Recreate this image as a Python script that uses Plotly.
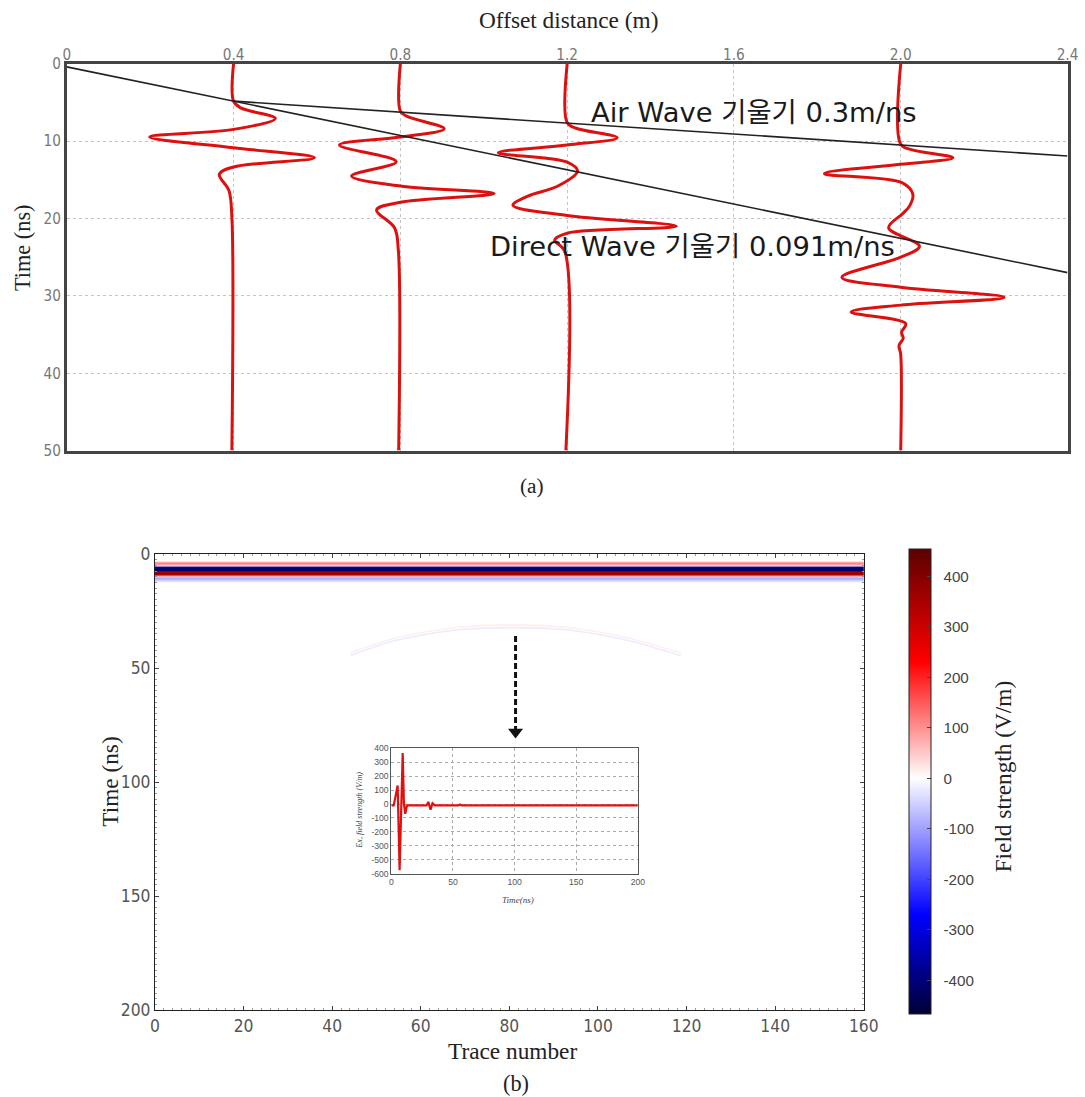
import plotly.graph_objects as go

# The captured picture maps page pixels as: image = 0.9855 * page + offset.
# Positions below are given in target-image pixels and converted to page pixels.
SX, OX = 0.9855, 1.5
SY, OY = 0.9856, 8.5
W, H = 1100, 1105
SC = 1 / SX

# ---------------- (a) offset gather ----------------
offset_ticks = [0, 0.4, 0.8, 1.2, 1.6, 2.0, 2.4]
offset_labels = ["0", "0.4", "0.8", "1.2", "1.6", "2.0", "2.4"]
time_ticks_a = [0, 10, 20, 30, 40, 50]

trace_offsets = [0.4, 0.8, 1.2, 2.0]
trace_times = [
    [0, 4.83, 5.7, 7.06, 8.48, 9.47, 10.85, 12.14, 13.34, 14.28, 16.4, 19.9, 50],
    [0, 6.12, 6.77, 8.4, 9.47, 10.5, 12.65, 14.5, 15.8, 16.78, 17.9, 18.9, 21.2, 24, 50],
    [0, 7.6, 8.3, 9.56, 10.5, 11.5, 12.7, 13.85, 15.8, 17.1, 18.3, 19.6, 21.0, 21.9, 22.8, 24.2, 50],
    [0, 10.4, 11.1, 12.14, 13.0, 14.2, 15.4, 16.86, 18.4, 19.4, 21.2, 23.6, 25.0, 27.6, 28.9,
     30.2, 31.2, 32.1, 33.6, 34.7, 35.5, 36.4, 37.6, 50],
]
trace_amps = [
    [0, 0, 0.017, 0.100, 0, -0.201, 0, 0.194, 0, -0.034, -0.011, -0.004, -0.004],
    [0, 0, 0.015, 0.105, 0, -0.146, -0.010, -0.117, 0, 0.225, 0, -0.057, -0.014, -0.005, -0.004],
    [0, 0, 0.02, 0.12, 0, -0.165, 0, 0.025, -0.022, -0.094, -0.13, 0, 0.262, 0, -0.03, -0.006, -0.003],
    [0, 0, 0.025, 0.125, 0, -0.183, 0.004, 0.029, 0.021, 0.004, -0.029, 0.045, 0, -0.141, 0,
     0.248, 0, -0.119, 0.012, 0.002, 0.006, -0.004, 0, 0],
]

air_x = [0.4, 2.4]
air_t = [4.83, 11.92]
direct_x = [0, 2.4]
direct_t = [0.4, 27.0]

# ---------------- (b) simulated section ----------------
trace_numbers = [0, 40, 80, 120, 160]
heat_t = [0, 3.0, 3.6, 4.2, 4.8, 5.4, 6.0, 6.7, 7.4, 8.0, 8.6, 9.2, 9.7, 10.2, 10.9, 11.6, 12.3, 13.0, 200]
heat_v = [0, 0, 60, 110, 60, 20, -350, -470, -350, 300, 420, 250, 100, -40, -90, -50, -10, 0, 0]

hyper_trace = [44.1, 52.7, 61.3, 69.9, 81.2, 91.4, 100.0, 108.6, 118.7]
hyper_t_lower = [44.6, 38.8, 35.2, 33.0, 32.3, 33.0, 35.2, 38.8, 44.6]
hyper_t_upper = [43.4, 37.7, 34.1, 31.9, 31.1, 31.9, 34.1, 37.7, 43.4]

trace_ticks_b = [0, 20, 40, 60, 80, 100, 120, 140, 160]
time_ticks_b = [0, 50, 100, 150, 200]
cbar_ticks = [-400, -300, -200, -100, 0, 100, 200, 300, 400]
cbar_labels = ["-400", "-300", "-200", "-100", "0", "100", "200", "300", "400"]

# inset: single trace (trace 80)
inset_t = [0, 1.9, 3.5, 5.1, 6.7, 9.2, 10.2, 11.3, 12.7, 28.6, 30.0, 31.8, 33.4, 35.2, 54.5, 55.8, 57.0, 200]
inset_v = [-10, -10, 60, 133, -474, 366, 0, -70, -10, -10, 15, -40, 5, -10, -10, -3, -10, -10]
inset_xticks = [0, 50, 100, 150, 200]
inset_yticks = [400, 300, 200, 100, 0, -100, -200, -300, -400, -500]
inset_ylabels = ["400", "300", "200", "100", "0", "-100", "-200", "-300", "-500", "-600"]

# arrow (trace 81.4, from t=36 down to t=80.6)
arrow_trace = [81.4, 81.4]
arrow_t = [36.0, 77.5]

# ---------------- styling ----------------
SERIF = "Liberation Serif, Times New Roman, serif"
NARROW = "Liberation Sans Narrow, DejaVu Sans Condensed, sans-serif"
SANS = "Liberation Sans, Arial, sans-serif"
KR = "DejaVu Sans, Noto Sans CJK KR, sans-serif"
NB = "\u00a0\u00a0"


def px_x(p):
    return ((p - OX) / SX) / W


def px_y(p):
    return 1 - ((p - OY) / SY) / H


def fs(s):
    return round(s * SC, 1)


fig = go.Figure()

# (a) traces
for off, ts, am in zip(trace_offsets, trace_times, trace_amps):
    fig.add_trace(go.Scatter(
        x=[off + a for a in am], y=ts, mode="lines",
        line=dict(color="#dd1010", width=3, shape="spline", smoothing=1.0),
        xaxis="x", yaxis="y", hoverinfo="skip"))

fig.add_trace(go.Scatter(x=air_x, y=air_t, mode="lines",
                         line=dict(color="#222222", width=1.6), xaxis="x", yaxis="y"))
fig.add_trace(go.Scatter(x=direct_x, y=direct_t, mode="lines",
                         line=dict(color="#222222", width=1.6), xaxis="x", yaxis="y"))

# (b) heatmap
z = [[v] * len(trace_numbers) for v in heat_v]
colorscale = [
    [0.0, "#000035"],
    [0.214, "#0000ff"],
    [0.507, "#ffffff"],
    [0.757, "#ff0000"],
    [1.0, "#5c0000"],
]
fig.add_trace(go.Heatmap(
    x=trace_numbers, y=heat_t, z=z, zmin=-467, zmax=454,
    colorscale=colorscale, xaxis="x2", yaxis="y2",
    colorbar=dict(
        x=px_x(909), xanchor="left", xpad=0, ypad=0,
        y=px_y(783), yanchor="middle",
        len=458 * SC, lenmode="pixels", thickness=22 * SC, thicknessmode="pixels",
        outlinecolor="#222", outlinewidth=1,
        tickvals=cbar_ticks, ticktext=[NB + t for t in cbar_labels],
        ticks="inside", ticklen=4, tickcolor="#444",
        tickfont=dict(family=SANS, size=fs(15), color="#444"),
    ),
    hoverinfo="skip"))

fig.add_trace(go.Scatter(x=hyper_trace, y=hyper_t_upper, mode="lines",
                         line=dict(color="rgb(255,238,238)", width=1.6, shape="spline"),
                         xaxis="x2", yaxis="y2"))
fig.add_trace(go.Scatter(x=hyper_trace, y=hyper_t_lower, mode="lines",
                         line=dict(color="rgb(236,236,255)", width=1.6, shape="spline"),
                         xaxis="x2", yaxis="y2"))

# dashed arrow
fig.add_trace(go.Scatter(x=arrow_trace, y=arrow_t, mode="lines",
                         line=dict(color="#111", width=3, dash="6px,3px"),
                         xaxis="x2", yaxis="y2"))
fig.add_trace(go.Scatter(x=[arrow_trace[1]], y=[arrow_t[1] + 0.5], mode="markers",
                         marker=dict(symbol="triangle-down", size=13, color="#111"),
                         xaxis="x2", yaxis="y2"))

# inset
fig.add_trace(go.Scatter(x=inset_t, y=inset_v, mode="lines",
                         line=dict(color="#e01010", width=2.2),
                         xaxis="x3", yaxis="y3"))

tick_a = dict(family=NARROW, size=fs(15), color="#777")
tick_b = dict(family=NARROW, size=fs(17), color="#555")
tick_c = dict(family="Liberation Sans, sans-serif", size=fs(8.5), color="#555")

fig.update_layout(
    width=W, height=H,
    margin=dict(l=0, r=0, t=0, b=0),
    paper_bgcolor="white", plot_bgcolor="white",
    showlegend=False,
    xaxis=dict(
        domain=[px_x(63.5), px_x(1068)], anchor="y", side="top",
        range=[0, 2.4], tickvals=offset_ticks, ticktext=offset_labels,
        showgrid=True, gridcolor="#c4c4c4", griddash="dot", gridwidth=1,
        showline=True, mirror=True, linecolor="#444", linewidth=2.5,
        zeroline=False, ticks="", tickfont=tick_a, ticklabelstandoff=-5,
    ),
    yaxis=dict(
        domain=[px_y(450.7), px_y(62.5)], anchor="x",
        range=[50, 0], tickvals=time_ticks_a,
        showgrid=True, gridcolor="#c4c4c4", griddash="dot", gridwidth=1,
        showline=True, mirror=True, linecolor="#444", linewidth=2.5,
        zeroline=False, ticks="", tickfont=tick_a,
    ),
    xaxis2=dict(
        domain=[px_x(152), px_x(863.5)], anchor="y2",
        range=[0, 160], tickvals=trace_ticks_b,
        showgrid=False, zeroline=False,
        showline=True, mirror="allticks", linecolor="#222", linewidth=1,
        ticks="inside", ticklen=4, tickcolor="#444",
        minor=dict(ticks="inside", ticklen=2, dtick=2, tickcolor="#999"),
        tickfont=tick_b,
    ),
    yaxis2=dict(
        domain=[px_y(1012.5), px_y(554.5)], anchor="x2",
        range=[200, 0], tickvals=time_ticks_b,
        showgrid=False, zeroline=False,
        showline=True, mirror="allticks", linecolor="#222", linewidth=1,
        ticks="inside", ticklen=4, tickcolor="#444",
        minor=dict(ticks="inside", ticklen=2, dtick=2.5, tickcolor="#999"),
        tickfont=tick_b,
    ),
    xaxis3=dict(
        domain=[px_x(389.3), px_x(636.7)], anchor="y3",
        range=[0, 200], tickvals=inset_xticks,
        showgrid=True, gridcolor="#aaaaaa", griddash="dot", gridwidth=1,
        showline=True, mirror=True, linecolor="#555", linewidth=1,
        zeroline=False, ticks="", tickfont=tick_c,
    ),
    yaxis3=dict(
        domain=[px_y(875.5), px_y(749.5)], anchor="x3",
        range=[-500, 400], tickvals=inset_yticks, ticktext=inset_ylabels,
        showgrid=True, gridcolor="#aaaaaa", griddash="dot", gridwidth=1,
        showline=True, mirror=True, linecolor="#555", linewidth=1,
        zeroline=False, ticks="", tickfont=tick_c,
    ),
)

ann = [
    dict(text="Offset distance (m)", x=px_x(567), y=px_y(19), font=dict(family=SERIF, size=fs(23), color="#222")),
    dict(text="Time (ns)", x=px_x(19), y=px_y(247), textangle=-90, font=dict(family=SERIF, size=fs(22), color="#222")),
    dict(text="(a)", x=px_x(530), y=px_y(486), font=dict(family=SERIF, size=fs(21), color="#222")),
    dict(text="Air Wave 기울기 0.3m/ns", x=px_x(753), y=px_y(111), font=dict(family=KR, size=fs(27), color="#1a1a1a")),
    dict(text="Direct Wave 기울기 0.091m/ns", x=px_x(692), y=px_y(246), font=dict(family=KR, size=fs(27), color="#1a1a1a")),
    dict(text="Time (ns)", x=px_x(106), y=px_y(783), textangle=-90, font=dict(family=SERIF, size=fs(23), color="#222")),
    dict(text="Trace number", x=px_x(511), y=px_y(1053), font=dict(family=SERIF, size=fs(23), color="#222")),
    dict(text="(b)", x=px_x(514), y=px_y(1086), font=dict(family=SERIF, size=fs(22), color="#222")),
    dict(text="Field strength (V/m)", x=px_x(1003), y=px_y(778), textangle=-90, font=dict(family=SERIF, size=fs(23), color="#222")),
    dict(text="<i>Time(ns)</i>", x=px_x(516), y=px_y(902), font=dict(family=SERIF, size=fs(9), color="#444")),
    dict(text="<i>Ex, field strength (V/m)</i>", x=px_x(357), y=px_y(812), textangle=-90, font=dict(family=SERIF, size=fs(8), color="#444")),
]
for a in ann:
    a.update(xref="paper", yref="paper", showarrow=False, xanchor="center", yanchor="middle")
fig.update_layout(annotations=ann)

fig.write_html(
    "out.html",
    config={"displayModeBar": False},
    post_script="document.body.style.margin='0';document.body.style.overflow='hidden';",
)
